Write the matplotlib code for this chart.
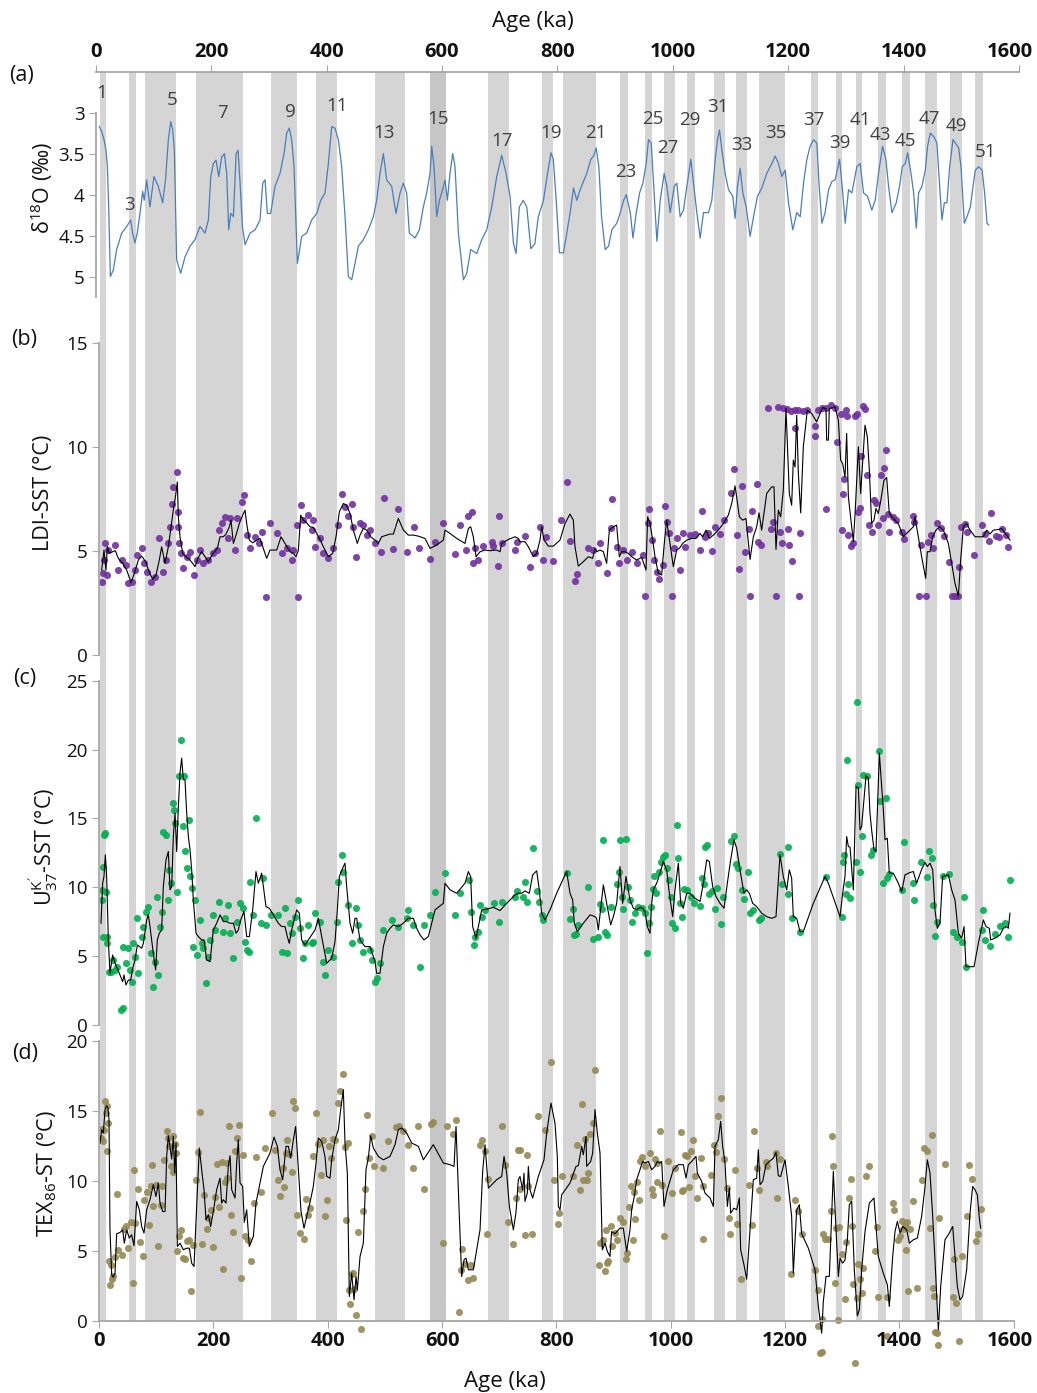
import matplotlib
matplotlib.use('Agg')
import matplotlib.pyplot as plt
from matplotlib.transforms import ScaledTranslation

plt.rcParams['font.family'] = ['Open Sans', 'DejaVu Sans']
plt.rcParams['mathtext.fontset'] = 'custom'
plt.rcParams['mathtext.rm'] = 'Open Sans'
plt.rcParams['mathtext.it'] = 'Open Sans:italic'

############################################################################
#                    Data                              #
############################################################################
# interglacial bands (ka)
band_start = [2, 52, 80, 170, 300, 380, 483, 579, 680, 775, 811, 912, 955, 989, 1029,
              1076, 1115, 1154, 1245, 1289, 1324, 1362, 1405, 1445, 1488, 1532]
band_end = [13, 65, 135, 252, 346, 416, 535, 607, 718, 795, 869, 926, 968, 1008, 1043,
            1095, 1134, 1200, 1257, 1300, 1335, 1376, 1419, 1466, 1510, 1546]
dark_band = 7

# MIS labels (age ka, d18O position)
mis_label = ['1', '3', '5', '7', '9', '11', '13', '15', '17', '19', '21', '23', '25', '27',
             '29', '31', '33', '35', '37', '39', '41', '43', '45', '47', '49', '51']
mis_x = [10, 58, 132, 220, 337, 418, 500, 593, 705, 789, 867, 919, 966, 992,
         1030, 1078, 1120, 1178, 1245, 1289, 1325, 1359, 1403, 1444, 1492, 1542]
mis_y = [2.76, 4.13, 2.84, 3.01, 2.99, 2.92, 3.25, 3.08, 3.34, 3.25, 3.25, 3.72, 3.08, 3.43,
         3.09, 2.93, 3.39, 3.25, 3.09, 3.37, 3.09, 3.27, 3.35, 3.08, 3.16, 3.48]

# (a) benthic d18O
d18o = [(6.3,3.17),(10.3,3.23),(14.4,3.33),(17.9,3.46),(20.2,3.66),(22.5,4.15),(25.4,5.0),
        (30.6,4.92),(36.3,4.67),(45,4.47),(53.7,4.39),(60.6,4.31),(64,4.47),(68,4.59),(72,4.47),
        (76.7,4.23),(81.4,3.96),(84,4.07),(88.3,3.82),(94,4.15),(101,3.78),(108.5,3.9),(116,4.1),
        (121,3.82),(125.9,3.33),(130,3.11),(133.4,3.21),(136.3,3.46),(140.3,4.8),(147.3,4.96),
        (154.8,4.76),(163.5,4.63),(172,4.55),(180.8,4.39),(189.5,4.47),(195.3,4.31),(199.4,3.78),
        (204,3.62),(208.6,3.58),(213.2,3.78),(218.4,3.54),(223,3.5),(227,3.74),(230.5,4.43),
        (234,4.23),(238.6,4.27),(243.3,3.5),(246.7,3.46),(250.2,3.86),(254.2,4.39),(258.8,4.61),
        (267.5,4.47),(276.2,4.43),(284.8,4.31),(289.4,3.86),(293.5,3.82),(297.4,4.23),(303.2,4.23),
        (310.7,3.9),(319.4,3.74),(326.3,3.5),(331,3.25),(335.6,3.19),(339.6,3.33),(343.7,3.66),
        (349.5,4.84),(357,4.51),(365.6,4.47),(374.3,4.31),(383,4.23),(390,4.07),(397.4,3.98),
        (403.2,3.62),(409,3.17),(414.8,3.19),(420.5,3.33),(426.3,3.66),(432.1,4.27),(437.8,5.0),
        (443.6,5.04),(449.4,4.84),(455.2,4.63),(463.8,4.55),(472.5,4.43),(481.1,4.27),(486.9,4.07),
        (492.7,3.74),(498.5,3.5),(504.2,3.82),(512.9,3.9),(520.4,4.23),(527.4,3.98),(533.1,3.86),
        (538.9,3.98),(543.5,4.47),(553.4,4.53),(560.9,4.43),(567.8,4.15),(573.6,3.98),(579.4,3.74),
        (582.3,3.41),(586.3,3.66),(590.9,4.27),(595.6,4.07),(599.6,3.98),(605.4,3.82),(609.4,4.07),
        (614,3.74),(618.7,3.5),(622.7,3.66),(628.5,4.47),(637.2,5.04),(643,4.96),(649.9,4.67),
        (660.3,4.72),(669,4.55),(677.6,4.43),(686.3,4.15),(695,3.78),(703.6,3.52),(711.1,3.74),
        (718,4.02),(723.8,4.59),(728.4,4.72),(734.2,4.15),(741,4.07),(747,4.15),(754,4.66),
        (761,4.6),(767,4.27),(776,4.07),(783,3.74),(789,3.49),(793,3.57),(798,4.07),(803.6,4.71),
        (810.6,4.71),(816.4,4.47),(822.2,4.22),(828,3.92),(833.7,4.07),(839.5,3.94),(845.3,3.84),
        (851,3.74),(858,3.57),(862.7,3.53),(867.3,3.43),(872,3.67),(876.6,4.27),(882.9,4.67),
        (888.7,4.63),(894.5,4.43),(903,4.35),(909,4.22),(914.8,4.07),(919.4,4.0),(926.4,4.22),
        (931,4.53),(936.8,4.22),(942.5,3.98),(948.3,3.86),(954,3.62),(958,3.33),(962.7,3.37),
        (966.7,3.86),(972.5,4.57),(978.3,4.07),(985.2,3.74),(989.8,3.9),(995.6,4.22),(1002.5,3.9),
        (1007,3.86),(1012.8,4.27),(1018.6,4.19),(1024.4,3.9),(1031.3,3.57),(1035.9,3.86),
        (1041.7,4.22),(1047.5,4.53),(1053.2,4.22),(1061.9,4.22),(1067.7,4.07),(1073.5,3.57),
        (1077.5,3.33),(1081,3.21),(1085,3.45),(1090.8,3.74),(1096.6,3.94),(1104,4.02),(1108,4.29),
        (1112.2,3.9),(1116.8,3.68),(1121.4,3.98),(1127.2,4.15),(1134,4.51),(1140,4.27),
        (1146.8,4.02),(1154.3,3.92),(1163,3.74),(1171.7,3.62),(1177.4,3.53),(1183.2,3.62),
        (1189,3.78),(1194.8,3.70),(1200.6,4.1),(1208,4.43),(1215,4.22),(1220.8,4.27),(1226.6,3.86),
        (1232.4,3.57),(1238,3.41),(1244,3.33),(1249.7,3.37),(1253.7,3.9),(1258.4,4.35),(1264,4.22),
        (1270,3.94),(1275.8,3.84),(1281.5,3.82),(1289,3.57),(1293.6,3.9),(1298.8,4.35),
        (1304.6,3.94),(1310.4,3.98),(1319,3.66),(1324.8,3.62),(1330.6,3.98),(1337.5,4.02),
        (1345,4.19),(1350.8,4.07),(1356.6,3.74),(1363.5,3.41),(1369.3,3.57),(1374,3.9),
        (1379.8,4.22),(1387.3,4.1),(1393,3.9),(1397.7,3.66),(1402.9,3.62),(1407,3.49),
        (1412.8,3.74),(1417.4,3.98),(1422,4.41),(1426,3.98),(1431.8,3.9),(1437.6,3.70),
        (1441.6,3.41),(1446.3,3.25),(1452,3.29),(1457.8,3.37),(1462.5,3.9),(1466.5,4.31),
        (1470.6,4.1),(1475.2,4.1),(1479.8,3.66),(1485.6,3.33),(1489.6,3.37),(1495.4,3.43),
        (1499.5,3.66),(1505.3,4.35),(1509.9,4.27),(1515.7,4.15),(1520.3,3.9),(1524.4,3.70),
        (1530,3.66),(1535.9,3.70),(1540.5,3.98),(1544.6,4.35),(1547.5,4.37)]

# (b) LDI-SST
ldi_pts = [(4.7,3.53),(7.6,3.93),(10.5,5.37),(13.4,3.85),(8.7,4.57),(16.3,5.05),(28,5.29),
           (33.8,4.09),(39.7,4.57),(47.2,4.33),(50.1,3.45),(57.1,3.53),(63,4.09),(65.9,4.81),
           (74.6,5.13),(79.3,4.41),(83.4,4.01),(90.4,3.53),(98,3.77),(105.5,5.61),(112.5,4.01),
           (116.6,4.57),(121.3,5.37),(124.2,6.17),(127.1,7.29),(130,8.09),(135.9,8.81),(137.6,6.89),
           (138.8,6.17),(140.5,5.37),(143.4,4.89),(147.5,4.17),(153.4,4.73),(159.2,4.97),
           (166.8,3.85),(170.8,4.57),(176.7,5.05),(182.5,4.41),(191.3,4.57),(200,4.89),(205.8,5.05),
           (210.5,6.01),(214.6,6.33),(220.4,6.65),(229.2,6.57),(226.3,5.61),(237.9,5.05),(242,6.57),
           (249.6,7.37),(254.2,7.72),(258.3,5.77),(264.1,5.13),(272.9,5.69),(280.5,5.37),
           (284.5,5.93),(292.1,2.8),(299.1,6.33),(310.8,5.85),(319.5,4.89),(328.3,5.13),(337,4.57),
           (340,5.05),(347,6.25),(348.7,2.8),(352.8,7.21),(357.4,6.49),(366.2,6.73),(372,6.01),
           (374.9,6.52),(377.8,5.21),(386.6,5.61),(392.4,4.89),(401.2,4.65),(409.9,5.13),
           (418.7,6.25),(424.5,7.77),(430.3,7.13),(436.2,6.68),(442,7.29),(444.9,6.17),(449.6,4.73),
           (456.6,6.33),(462.4,6.25),(468.2,5.77),(474.1,6.01),(482.8,5.37),(492.7,4.97),
           (498.5,7.56),(513.7,5.08),(523.6,7.02),(538.2,4.97),(551,6.17),(560.3,5.13),(579,4.63),
           (587.8,5.45),(602.3,6.36),(622.7,4.86),(631.5,6.25),(642,5.05),(646.1,6.71),(651.9,6.89),
           (653.6,4.41),(657.7,5.13),(663.6,4.57),(672.3,5.24),(686.9,5.45),(689.8,5.24),
           (698.5,4.28),(700.3,6.71),(704.4,5.37),(727.7,5.05),(731.8,5.45),(745.1,5.72),
           (753.9,4.25),(762.6,4.92),(771.4,6.17),(776,4.57),(781.9,5.69),(794.7,4.52),(807.5,6.49),
           (818,8.32),(823.9,5.5),(832.6,3.57),(836.7,3.88),(855.9,5.13),(864.7,5.05),(873.4,4.41),
           (876.4,5.37),(888,3.97),(895,6.09),(896.7,7.5),(905.5,5.21),(910.2,4.41),(917.1,5.05),
           (923,4.57),(931.7,4.97),(940.5,4.41),(951,4.81),(955.7,2.84),(959.7,6.33),(962.6,7.02),
           (966.7,5.53),(970.8,4.57),(975.5,4.01),(979.5,3.64),(987.1,4.31),(990,7.16),(994.1,6.41),
           (997.6,5.85),(1001.7,2.85),(1006.4,5.13),(1010.5,5.61),(1016.3,4.09),(1021,5.85),
           (1025,5.21),(1033.8,5.77),(1042.5,5.82),(1051.3,5.05),(1054.2,6.92),(1060,5.69),
           (1065.9,5.85),(1071.7,5.02),(1077.5,6.14),(1086.3,5.82),(1093.3,6.49),(1104.9,7.82),
           (1110.7,8.97),(1115.4,5.77),(1120.1,4.15),(1124.2,8.13),(1130,4.97),(1137.6,6.06),
           (1138.8,2.85),(1141.7,6.92),(1150.4,8.25),(1153.3,5.45),(1157.4,5.29),(1174.9,6.04),
           (1179.6,6.38),(1184.2,2.85),(1191.2,5.93),(1194.1,5.37),(1204.6,6.04),(1207.5,5.29),
           (1211.6,4.52),(1225,2.85),(1226.2,5.85),(1169.6,11.9),(1188.3,11.94),(1197,11.9),
           (1202.9,11.86),(1209.9,11.75),(1217.5,11.78),(1223.3,11.81),(1230.9,11.75),(1239,11.78),
           (1217.5,10.93),(1252.4,11.03),(1252.4,10.56),(1258.3,11.78),(1264.1,11.9),(1271.7,11.9),
           (1279.8,12.02),(1287.4,11.9),(1271.7,7.02),(1291.5,10.26),(1297.3,11.62),(1299.1,6.01),
           (1301.9,7.74),(1303.1,8.49),(1306.7,11.78),(1307.8,11.49),(1309.6,5.79),(1314.8,5.24),
           (1319.5,5.37),(1322.4,11.49),(1326.5,11.62),(1328.3,6.89),(1331.1,7.08),(1332.3,9.58),
           (1335.8,11.99),(1339.9,11.83),(1342.8,8.67),(1347.5,6.25),(1351.5,5.93),(1356.1,7.48),
           (1359.1,7.32),(1363.1,6.25),(1367.2,8.67),(1370.8,6.57),(1373.1,9.02),(1376.6,9.86),
           (1379.6,6.78),(1382.4,5.93),(1388.3,6.65),(1394.1,6.52),(1404,5.93),(1408.1,5.58),
           (1423.3,6.7),(1425.6,6.38),(1434.9,2.84),(1437.3,5.29),(1446.6,2.84),(1450.7,5.42),
           (1454.8,5.77),(1459.4,5.13),(1465.3,6.36),(1472.2,6.09),(1478,5.72),(1487.4,4.46),
           (1491.5,2.84),(1497.3,2.84),(1503.2,2.84),(1504.9,4.25),(1507.2,6.17),(1515,6.3),
           (1519,5.93),(1530.6,4.81),(1544,6.28),(1549.8,5.8),(1557.4,5.5),(1559.7,6.81),
           (1569,5.72),(1574.3,5.69),(1579,6.04),(1586.5,5.77),(1590.6,5.21)]

ldi_line = [(4.7,4.09),(8.7,5.05),(12.2,4.09),(14.6,5.21),(18.1,4.89),(23.9,4.97),(28.6,5.02),
            (33.8,4.65),(41.4,4.41),(48.4,4.09),(56,3.49),(61.8,3.93),(68.8,4.57),(74.6,4.76),
            (81.6,4.49),(87.5,4.01),(93.9,3.64),(99.7,3.85),(105.5,4.57),(109.6,5.21),(115.5,4.41),
            (121.3,5.21),(126,6.17),(130,6.97),(134.1,7.69),(137,8.33),(138.8,6.65),(141.7,5.69),
            (146.4,4.89),(152.2,4.73),(158,4.6),(163.8,4.41),(167.9,4.25),(173.8,4.7),(179.6,4.97),
            (185.4,4.73),(191.3,4.49),(200,4.92),(207,5.13),(211.7,5.69),(217.5,5.69),(222.2,5.82),
            (228,6.17),(230.9,6.49),(235,5.37),(239.7,5.77),(245.5,6.33),(251.3,6.73),(255.4,6.97),
            (258.3,6.33),(263,5.53),(268.8,5.4),(274.6,5.5),(281.6,5.61),(287.5,5.13),(293.3,4.65),
            (299.1,5.05),(310.8,5.05),(318.4,5.69),(327.1,5.29),(334.1,4.97),(340,4.89),(344.6,4.73),
            (348.7,5.05),(352.8,6.73),(357.4,6.49),(363.3,6.36),(369.1,6.17),(374.9,6.14),
            (380.8,5.85),(386.6,5.56),(392.4,5.21),(401.2,4.73),(408.7,4.89),(414.6,5.69),
            (420.4,6.89),(427.4,7.29),(433.2,7.21),(439.1,6.81),(444.9,6.01),(451.9,5.37),
            (456.6,5.77),(462.4,6.09),(468.2,6.01),(475.2,5.69),(482.8,5.53),(488.6,5.37),
            (494.5,5.69),(509,5.82),(514.9,5.82),(523.6,6.57),(532.4,6.01),(541.1,5.77),(549.9,5.77),
            (558.6,5.72),(570.3,5.61),(579,5.13),(590.7,5.29),(602.3,5.53),(605.2,6.01),(614,5.85),
            (625.7,5.61),(640.2,5.37),(646.1,6.09),(650.1,6.17),(654.8,5.69),(659.5,4.73),
            (666.5,4.97),(675.2,5.05),(683.9,5.02),(695.6,5.05),(701.5,4.97),(704.4,5.37),(716,5.56),
            (727.7,5.69),(733.5,5.61),(736.4,5.45),(745.1,5.45),(751,5.21),(759.7,4.73),(765.6,4.89),
            (771.4,5.53),(774.3,6.17),(778.4,5.53),(786,5.24),(794.7,5.24),(806.4,5.53),(815.1,6.33),
            (823.9,6.78),(829.7,6.49),(832.6,5.21),(838.4,4.28),(847.2,4.49),(855.9,4.73),
            (863.5,4.65),(867.6,5.13),(870.5,4.97),(876.4,5.05),(882.2,4.97),(888,4.41),(892.7,6.01),
            (899.7,6.17),(905.5,6.25),(910.2,4.73),(914.2,4.97),(920.1,4.97),(925.9,4.89),
            (931.7,4.73),(940.5,4.57),(949.2,4.7),(956.8,4.09),(959.7,6.65),(963.8,6.33),(968.5,5.53),
            (972.5,4.73),(978.4,3.93),(984.2,3.85),(988.3,5.21),(992.9,6.49),(998.8,5.37),
            (1004.6,4.25),(1010.5,5.05),(1015.1,5.13),(1021,5.37),(1028,5.53),(1036.7,5.61),
            (1044.3,5.61),(1051.3,5.85),(1055.9,5.69),(1061.8,6.01),(1067.6,5.61),(1074.6,5.77),
            (1083.3,6.01),(1092.1,6.33),(1100.8,6.73),(1106.7,7.29),(1112.5,8.14),(1115.4,7.61),
            (1120.1,6.65),(1126,6.49),(1131.7,6.57),(1138.8,4.6),(1144.6,5.69),(1150.4,6.17),
            (1154.5,6.84),(1159.1,6.01),(1167.9,7.77),(1176.6,8.09),(1180.7,8.09),(1184.2,5.08),
            (1188.3,6.97),(1192.4,6.65),(1197,7.93),(1201.7,11.86),(1207.5,7.77),(1211.6,7.21),
            (1214.5,9.38),(1217.5,9.05),(1220.4,11.54),(1223.3,8.73),(1227.4,6.84),(1232,10.02),
            (1239,11.78),(1246.6,11.62),(1255.3,11.22),(1261.2,11.62),(1265.8,11.9),(1271.7,11.86),
            (1272.8,10.34),(1275.8,10.34),(1277.5,11.86),(1287.4,11.94),(1293.3,11.3),(1297.3,9.38),
            (1300.8,9.21),(1304.9,8.57),(1307.8,10.66),(1310.8,7.61),(1319.5,5.45),(1322.4,6.73),
            (1328.3,10.02),(1332.3,7.77),(1335.8,9.29),(1339.9,11.06),(1344,10.5),(1347.5,8.89),
            (1351.5,6.33),(1355.6,6.49),(1359.1,7.05),(1363.1,6.81),(1367.2,7.37),(1373.1,8.41),
            (1377.8,8.54),(1382.4,6.81),(1389.4,6.57),(1398.2,6.33),(1406.9,5.69),(1415.7,5.93),
            (1424.4,6.17),(1427.3,6.65),(1433.2,5.69),(1439,4.73),(1446,3.69),(1448.9,4.97),
            (1453.6,4.97),(1458.3,5.69),(1464.1,6.01),(1470,6.17),(1477,6.01),(1485.7,5.37),
            (1491.5,4.41),(1497.3,3.45),(1503.2,2.84),(1507.2,4.57),(1512,6.17),(1517.7,6.33),
            (1523.6,6.01),(1532.3,5.69),(1546.9,5.69),(1552.7,6.01),(1558.6,5.82),(1564.4,6.01),
            (1573.2,6.04),(1579,6.09),(1587.7,5.77),(1593.5,5.53)]

# (c) UK'37-SST
uk_pts = [(4.7,9.8),(5.8,9.08),(6.4,6.41),(7.6,11.5),(8.7,13.81),(11.1,13.93),(12.2,9.68),
          (13.4,6.41),(14.6,5.92),(17,3.86),(20.4,3.86),(23.9,4.71),(28,3.98),(32.1,4.22),
          (37.9,1.07),(42.6,1.19),(41.4,5.68),(47.2,4.47),(51.3,5.56),(54.2,3.98),(57.1,3.13),
          (58.9,5.92),(63,4.95),(65.9,7.74),(68.8,3.74),(74.6,6.41),(77.6,7.14),(82.2,8.23),
          (86.3,8.59),(90.4,5.19),(93.9,2.77),(98,4.59),(100.9,9.32),(103.8,3.62),(106.7,7.14),
          (109.6,8.23),(112.5,14.05),(116.6,13.81),(120.1,9.08),(123,11.26),(125.4,10.29),
          (128.9,16.12),(131.2,15.63),(133,14.66),(135.9,9.68),(139.9,18.06),(143.4,20.73),
          (146.4,14.42),(149.3,18.06),(151,12.6),(154.5,11.38),(158,14.9),(159.2,10.78),
          (162.1,9.93),(167.9,9.08),(165,5.68),(170.8,5.07),(176.7,7.62),(179.6,5.92),(181.3,5.56),
          (187.2,3.01),(191.3,4.95),(194.2,6.17),(200,7.99),(202.9,6.89),(210.5,8.96),(216.4,6.77),
          (220.4,7.74),(226.3,8.71),(229.2,6.65),(235,4.83),(240.8,7.5),(246.7,8.83),(251.3,8.47),
          (255.4,6.04),(258.3,5.44),(263,5.32),(264.1,10.41),(269.9,7.99),(274.6,15.02),
          (282.8,7.38),(287.5,10.66),(292.1,7.26),(300.3,7.99),(313.7,7.99),(319.5,5.32),
          (325.4,8.47),(328.3,5.19),(334.1,7.38),(337,6.65),(342.9,7.86),(347.5,9.08),(351.6,7.01),
          (356.3,4.83),(360.3,5.92),(366.2,7.26),(372,5.92),(374.9,6.04),(377.8,8.11),(386.6,7.5),
          (392.4,4.59),(395.3,3.62),(401.2,5.44),(409.9,4.95),(415.7,7.5),(418.7,10.41),
          (424.5,12.35),(427.4,11.14),(436.2,8.71),(442,5.92),(449.6,8.47),(453.6,7.26),
          (456.6,6.17),(462.4,5.32),(474.1,5.44),(477,4.71),(482.8,3.13),(485.7,3.37),(491.5,4.47),
          (497.4,6.89),(512,7.62),(523.6,7.14),(538.2,7.74),(541.1,8.35),(549.9,7.26),(560.9,4.17),
          (569,7.26),(578.4,7.99),(588.3,9.68),(605.8,11.02),(623.3,7.99),(630.9,9.56),
          (646.6,10.53),(650.7,8.23),(655.4,5.8),(658.3,6.41),(662.4,6.77),(667,8.71),(670,7.86),
          (675.8,8.35),(690.4,8.83),(699.1,7.5),(704.4,8.96),(727.7,9.32),(731.8,9.73),(741,9.32),
          (745.1,10.36),(748.1,8.91),(758.6,12.84),(766.7,9.76),(770.2,8.96),(774.3,7.99),
          (777.2,7.62),(818,11.07),(823.9,7.67),(829.7,8.42),(831.4,6.53),(834.4,6.58),(838.4,7.26),
          (855.9,10),(864.7,6.21),(873.4,6.41),(876.4,8.79),(879.3,8.4),(882.2,13.4),(885.1,6.77),
          (889.2,6.53),(895,8.59),(906.7,10.24),(909.6,11.14),(911.3,13.45),(914.2,9.32),
          (917.1,8.4),(921.8,13.5),(925.9,10),(928.8,9.08),(931.7,7.5),(937.6,8.11),(943.4,8.59),
          (949.2,8.47),(955.1,8.11),(958,5.19),(962.6,7.38),(965,8.59),(968.5,9.85),(971.4,10.83),
          (974.3,9.56),(979,11.14),(982.5,11.8),(987.1,12.23),(990.6,12.35),(994.1,11.38),
          (997.1,10.53),(1000,9.32),(1002.3,7.43),(1007.5,7.06),(1010.5,14.54),(1013.4,12.11),
          (1016.3,8.83),(1019.2,7.82),(1023.3,9.85),(1028,9.81),(1035,9.32),(1040.8,8.83),
          (1051.3,8.64),(1054.2,10.66),(1058.3,10.22),(1060.6,12.89),(1064.1,13.08),(1067.6,9.51),
          (1071.7,9.76),(1077.5,8.4),(1080.4,9.93),(1087.4,7.33),(1092.1,9.32),(1104.9,13.33),
          (1110.7,13.74),(1114.3,11.7),(1118.3,11.38),(1124.2,9.81),(1128.2,9.13),(1135.8,11.14),
          (1138.8,8.11),(1144.6,8.35),(1155.1,7.62),(1157.4,7.74),(1191.2,12.43),(1194.1,10.24),
          (1204.6,9.51),(1205.8,12.91),(1211.6,7.79),(1226.2,6.77),(1271.1,10.73),(1299.1,7.82),
          (1302,11.8),(1303.1,12.35),(1306.7,9.51),(1307.8,19.22),(1310.8,10.22),(1313.7,9.22),
          (1323.6,11.8),(1325.3,23.45),(1327.1,17.45),(1331.2,11.12),(1334.1,13.76),(1337,18.18),
          (1342.8,18.06),(1350.4,12.35),(1353.3,12.72),(1365,19.88),(1366.1,16.24),(1370.8,10.34),
          (1376.6,16.48),(1378.9,10.66),(1382.4,10.97),(1404,9.81),(1408.1,13.28),(1423.3,10.29),
          (1425.6,9.08),(1437.3,11.8),(1447.8,10.73),(1452.4,12.65),(1456.5,12.11),(1459.4,8.71),
          (1462.3,6.46),(1465.3,7.5),(1477,10.83),(1487.4,10.97),(1493.3,6.77),(1501.4,6.41),
          (1509,6.04),(1513.7,9.32),(1516.6,4.17),(1544,6.89),(1546.9,8.35),(1549.8,6.17),
          (1558.6,5.73),(1567.3,6.6),(1575.6,7.18),(1584.8,7.38),(1590.6,6.36),(1593.5,10.53)]

uk_line = [(3.5,7.38),(6.4,10.29),(8.7,10.78),(11.1,12.35),(13.4,10.78),(16.3,6.17),(19.2,3.74),
           (23.9,5.07),(28,4.47),(32.1,4.1),(36.7,3.62),(41.4,3.13),(43.7,3.62),(47.2,2.89),
           (51.3,3.25),(55.4,3.25),(58.9,4.1),(63,4.71),(67.1,5.8),(70.6,5.68),(74.6,5.56),
           (77.6,5.92),(83.4,7.62),(86.3,7.99),(89.2,7.14),(95,5.19),(99.1,3.98),(102,6.17),
           (105.5,6.65),(109.6,6.89),(112.5,10.05),(117.2,11.99),(121.3,12.6),(124.2,9.81),
           (127.1,10.05),(130,13.69),(133,15.39),(135.9,12.6),(138.8,15.87),(141.7,18.3),
           (144.6,19.39),(147.5,17.82),(150.4,17.82),(153.4,15.39),(156.3,13.69),(159.2,12.72),
           (162.1,11.26),(165,9.08),(169.7,6.65),(173.8,6.41),(179.6,6.17),(183.7,6.17),(188.3,4.71),
           (194.2,4.59),(200,6.89),(205.8,7.38),(211.7,7.99),(217.5,7.5),(223.3,7.5),(229.2,7.38),
           (235,7.38),(239.7,6.65),(243.7,6.89),(247.8,7.62),(253.6,8.23),(258.3,6.41),(263,6.41),
           (268.8,8.35),(274.6,11.14),(278.7,10.29),(284.5,11.02),(287.5,10.05),(292.1,8.59),
           (297.9,8.47),(305,7.99),(313.7,7.38),(319.5,7.14),(325.4,7.14),(329.4,6.41),(332.9,5.92),
           (337,6.89),(345.8,8.35),(350.4,8.11),(354.5,6.17),(360.3,5.8),(366.2,6.17),(372,6.53),
           (377.8,6.89),(383.7,7.74),(389.5,6.41),(398.3,4.47),(407,4.83),(412.8,6.04),(416.9,8.35),
           (420.4,10.78),(427.4,11.5),(430.3,11.75),(433.2,10.05),(439.1,7.38),(443.7,6.65),
           (447.8,7.74),(450.7,7.74),(456.6,6.17),(465.3,5.68),(474.1,5.68),(482.8,4.59),
           (485.7,3.74),(491.5,3.74),(497.4,5.68),(503.2,6.65),(509,7.01),(514.9,7.26),(523.6,7.14),
           (532.4,7.38),(541.1,7.74),(549.9,7.74),(555.7,7.01),(561.5,6.53),(568.5,6.17),
           (576.1,6.41),(587.8,8.35),(602.3,8.83),(605.2,10.29),(614,9.81),(625.7,9.56),
           (640.2,10.29),(646.1,11.14),(650.1,10.78),(653.6,7.14),(659.5,6.29),(663.6,7.14),
           (669.4,8.35),(678.1,8.4),(689.8,8.54),(701.5,8.3),(713.1,8.83),(727.7,9.44),(733.5,9.56),
           (739.3,9.56),(745.1,9.73),(752.7,9.56),(758.6,10.9),(765.6,11.19),(770.2,9.81),
           (774.3,8.11),(780.1,7.62),(788.9,8.35),(800.5,9.56),(818,11.14),(823.9,9.56),(828.5,9.08),
           (831.4,7.38),(836.7,6.77),(847.2,7.38),(858.9,7.99),(867.6,7.86),(870.5,7.74),
           (873.4,6.89),(882.2,10.17),(888,8.83),(895,7.26),(899.7,7.86),(905.5,8.83),(911.3,11.5),
           (916,8.83),(921.8,10.78),(925.9,9.81),(928.8,9.08),(934.7,8.47),(940.5,8.35),(946.3,8.54),
           (951,8.47),(955.1,8.23),(959.1,7.14),(963.8,6.65),(966.7,8.83),(969.6,9.81),(975.5,10.29),
           (981.3,11.02),(987.1,11.87),(993,11.26),(997.6,9.56),(1003.5,7.86),(1007.5,9.81),
           (1013.4,11.75),(1017.5,8.83),(1022.1,8.47),(1028,9.56),(1033.8,9.56),(1042.5,9.2),
           (1051.3,8.96),(1057.1,10.29),(1063,11.99),(1067.6,11.87),(1073.4,10.05),(1079.3,9.32),
           (1086.3,8.83),(1093.3,8.47),(1099.1,10.29),(1104.9,11.99),(1110.7,13.45),(1115.4,12.84),
           (1121.2,11.26),(1128.2,9.56),(1132.9,9.81),(1137.6,9.56),(1143.4,8.83),(1150.4,8.59),
           (1159.1,8.11),(1167.9,7.86),(1176.6,7.74),(1184.2,7.86),(1191.2,12.35),(1197,10.78),
           (1202.9,9.81),(1207.5,11.26),(1211.6,10.66),(1214.5,7.86),(1220.4,7.74),(1226.2,6.77),
           (1232,6.77),(1249.5,8.83),(1270,10.78),(1275.8,10.29),(1296.2,7.86),(1300.8,9.56),
           (1304.9,10.78),(1307.8,13.69),(1310.8,12.96),(1313.7,12.91),(1319.5,9.81),(1324.2,17.33),
           (1328.3,17.21),(1331.2,14.17),(1334.1,14.42),(1337,15.87),(1341.7,18.11),(1345.7,17.94),
           (1348.6,15.39),(1351.5,14.17),(1355.6,12.72),(1359.1,12.6),(1365,19.76),(1369,17.33),
           (1372,15.63),(1374.9,13.45),(1378.9,13.57),(1382.4,11.02),(1389.4,11.02),(1398.2,10.29),
           (1404,9.68),(1409.9,10.9),(1418.6,11.07),(1424.4,11.14),(1430.3,10.29),(1439,11.31),
           (1444.9,11.8),(1448.9,11.5),(1453.6,11.75),(1458.3,11.26),(1462.3,8.35),(1466.4,7.01),
           (1471,7.38),(1475.7,10.78),(1479.8,10.83),(1485.7,10.9),(1491.5,9.81),(1497.3,9.08),
           (1503.2,6.65),(1509,6.29),(1513.1,7.14),(1516.6,4.22),(1523.6,4.22),(1530.6,4.22),
           (1538.2,5.92),(1546.9,7.62),(1551.6,7.14),(1557.4,7.01),(1559.7,6.17),(1567.3,6.29),
           (1576.1,6.53),(1581.9,7.01),(1587.7,7.14),(1590.6,7.01),(1593.5,8.11)]

# (d) TEX86-ST
tex_pts = [(2.9,13.07),(4.7,13.71),(6.4,12.83),(8.7,13.67),(10.5,15.69),(12.2,14.86),(13.4,15.38),
           (14.6,12.12),(15.7,14.14),(17.5,4.26),(19.2,2.6),(21,4.02),(22.2,3),(25.1,3.24),(28,4.57),
           (30.9,9.1),(33.8,5.1),(39.7,4.74),(43.7,6.57),(47.2,6.81),(51.3,5.21),(55.4,7.05),
           (58.9,2.76),(61.2,10.76),(63,7),(67.6,9.43),(71.7,5.62),(76.4,4.62),(79.3,8.62),
           (83.4,9.19),(87.5,6.88),(90.4,9.67),(93.3,11.17),(95,8.24),(99.7,9.74),(103.8,5.38),
           (107.9,8.31),(110.8,9.62),(113.7,11.52),(118.4,13.55),(120.1,13.07),(123,12.48),
           (125.4,11.05),(128.9,10.62),(130,13.24),(133,12.67),(134.7,12),(137,4.98),(140.5,6.05),
           (142.8,6.48),(146.4,4.5),(150.4,4.43),(153.4,5.69),(158,5.81),(160.3,2.12),(165,5.45),
           (169.7,10.1),(173.8,12.05),(176.7,14.9),(180.2,5.52),(183.7,9.02),(188.3,6.57),
           (191.3,7.36),(195.3,7.95),(198.8,5.29),(202.9,8.86),(205.8,11.24),(209.3,8.14),
           (214.6,11.38),(217.5,3.71),(220.4,9.9),(223.3,11.29),(224.5,10.21),(228,13.9),(230.9,7.6),
           (235,6.33),(237.9,12.12),(240.8,13.07),(245.5,14.02),(247.8,3.07),(252.5,11.88),
           (255.4,6.1),(261.2,5.76),(265.3,4.33),(271.1,8.43),(274.6,11.71),(282.8,9.21),
           (290.4,12.36),(302,14.86),(307.9,12.24),(313.7,10.05),(316.6,8.95),(321.3,10.93),
           (323.6,9.57),(327.1,12),(329.4,12.9),(332.9,11.95),(337,10.62),(340,15.69),(342.9,15.21),
           (347,7.6),(351.6,6.29),(358.6,5.86),(362.1,8.71),(366.2,7.6),(369.1,8.07),(373.8,11.81),
           (379.6,14.86),(383.7,12.67),(387.8,10.45),(391.3,12.9),(395.3,7.52),(398.3,8.62),
           (402.9,12.52),(405.2,11.64),(409.9,13),(412.8,12.9),(418.7,15.57),(421.6,16.4),
           (427.4,17.64),(430.3,12.43),(432.1,7.24),(436.2,12.71),(437.9,2.24),(439.1,1.24),
           (442,3.36),(444.9,3.43),(446.6,2.29),(449.6,0.45),(453.6,6.4),(457.7,-0.55),(461.2,7.83),
           (465.3,9.43),(469.4,14.74),(472.9,11.64),(477,13.19),(481.1,11.05),(497.4,10.93),
           (506.1,12.83),(519.5,13.86),(524.2,13.95),(532.4,13.55),(541.1,12.6),(549.9,10.93),
           (558.6,13.9),(568.5,9.43),(580.2,14.05),(584.8,14.19),(601.2,5.57),(609.3,13.9),
           (619.8,13.38),(624.5,14.33),(630.3,0.69),(633.2,3.67),(635.6,5.14),(640.2,4.1),
           (646.1,2.95),(650.1,4.02),(654.8,3.05),(666.5,12.6),(669.4,12.9),(675.2,12.12),
           (678.1,6.21),(681.1,10.17),(704.4,13.9),(710.3,11.17),(716,7.07),(723.6,5.52),
           (729.4,8.79),(733.5,12.24),(736.4,12.24),(736.4,9.43),(745.1,6.17),(749.2,11.83),
           (751,9.62),(756.8,6.24),(768.5,14.62),(780.1,13.67),(790.6,18.48),(796.5,10.1),
           (802.3,6.95),(805.2,7.71),(809.3,10.33),(828.5,10.38),(836.7,12.55),(841.4,9.38),
           (844.3,15.52),(847.2,10.05),(850.1,13),(853,10.05),(855.9,10.57),(858.9,13.36),
           (863.5,14.14),(867.6,17.95),(876.4,5.57),(875.2,4.02),(882.2,5.81),(885.1,3.6),
           (889.2,4.14),(891,4.31),(886.8,6.48),(895,6.81),(896.7,5.38),(902.6,6.29),(906.7,5.76),
           (911.3,7.36),(917.1,7.05),(921.8,4.43),(923,4.9),(927.7,8.14),(929.9,9.62),(933.5,5.76),
           (935.8,9.19),(937.6,7.29),(940.5,9.95),(945.1,8.62),(946.3,11.45),(949.2,11.71),
           (955.1,11.05),(963.8,12),(966.7,9.43),(969.6,9.02),(972.5,11.57),(975.5,11.29),
           (976.6,9.93),(981.3,13.55),(984.2,9.74),(988.3,6.1),(995.9,11.45),(1001.7,9.14),
           (1007.5,10.93),(1017.5,13.48),(1019.2,9.26),(1022.1,9.38),(1025,11.83),(1028,11.81),
           (1032.6,9.57),(1034.9,12.14),(1038.4,12.9),(1042.5,10.33),(1045.4,8.79),(1052.4,11.64),
           (1055.9,9.67),(1057.1,5.86),(1069.9,10.45),(1075.7,12.55),(1079.3,12.05),(1083.3,14.62),
           (1087.4,15.93),(1093.3,11.6),(1098,9.5),(1102.6,7.36),(1103.8,6.24),(1112.5,10.76),
           (1115.4,6.93),(1122.4,3),(1137,9.74),(1141.7,6.88),(1145.7,13.6),(1151.6,10.93),
           (1155.1,9.38),(1166.7,11.33),(1169.1,11.05),(1184.2,12),(1186.6,8.79),(1191.2,11.57),
           (1209.9,3.38),(1217.5,8.67),(1223.3,7.88),(1229.1,6.24),(1252.4,3.62),(1257.1,2.24),
           (1258.3,-0.33),(1261.2,-2.29),(1264.1,-2.17),(1264.1,0.14),(1265.8,6.24),(1269.9,5.86),
           (1275.8,5.86),(1279.8,7.9),(1282.8,13.19),(1284.5,11.1),(1287.4,2.71),(1289.2,6.64),
           (1293.3,0.1),(1295,6.71),(1299.1,4.81),(1304.9,1.57),(1306.7,5.64),(1312.5,8.79),
           (1314.8,10.17),(1316.6,6.81),(1319.5,2.64),(1322.4,-3),(1325.3,1.64),(1328.3,4.1),
           (1331.2,3),(1334.1,2),(1337,3.83),(1341.7,10.33),(1347.5,11.1),(1357.4,4.98),
           (1360.3,6.71),(1363.1,1.76),(1377.8,-1.05),(1379,1.76),(1388.3,8.43),(1390.6,7.95),
           (1398.2,5.76),(1401.3,6.1),(1404,7.12),(1406.3,6.57),(1409.9,6.81),(1411.6,5.05),
           (1413.9,7.05),(1415.7,2.12),(1418.6,6.57),(1424.4,8.55),(1430.3,2.4),(1439,10.05),
           (1443.1,12.36),(1448.9,12.12),(1453.6,6.64),(1456.5,13.31),(1458.3,2.36),(1460.7,1.81),
           (1462.3,-0.74),(1466.4,-0.86),(1468.2,-1.69),(1469.9,7.36),(1479.8,11.24),(1493.3,1.76),
           (1495.6,4.45),(1499.1,1.29),(1504.9,-1.38),(1509,4.67),(1517.7,7.48),(1522.4,11.12),
           (1526.4,10.14),(1534.1,5.74),(1538.2,6.24),(1542.2,8.02)]

tex_line = [(1.7,12.71),(4.7,13.67),(7.6,13.43),(10.5,15.1),(13.4,15.38),(15.7,15.21),(17.5,14.38),
            (19.2,6.52),(22.2,3.31),(25.1,3.14),(28,3.43),(30.9,6.24),(36.7,6.33),(41.4,6.52),
            (44.3,5.57),(48.4,6.52),(53,5.93),(57.1,6.17),(61.2,5.38),(65.9,8.55),(70.6,7.95),
            (74.6,6.76),(78.7,6.29),(83.4,7.95),(89.2,8.67),(95,9.74),(99.7,8.9),(103.8,9.86),
            (106.7,8.43),(111.4,7.83),(115.5,7.83),(118.4,11.76),(121.3,13.24),(124.2,12.48),
            (127.1,11.57),(130,13.19),(132.4,10.57),(134.7,12.71),(137,5.33),(141.7,5.57),
            (147.5,5.1),(153.4,5.21),(158,5.21),(162.1,4.14),(166.2,3.9),(170.8,8.19),(175.5,12.36),
            (179.6,10.81),(183.7,9.38),(187.2,7.24),(191.3,7.6),(195.3,6.76),(200,7.83),(205.8,9.38),
            (211.7,10.21),(214.6,8.43),(217.5,8.67),(222.2,8.43),(226.3,11.1),(229.2,11.81),
            (232.1,9.38),(237.9,8.79),(240.8,11.29),(243.7,12.95),(246.7,9.86),(251.3,9.62),
            (254.2,7.05),(258.3,7.95),(263,5.33),(270,6.05),(274.6,8.43),(281.6,9.86),(287.5,11.05),
            (299.1,12),(306.1,13.14),(312,12.48),(316.6,10.81),(321.3,10.1),(327.1,12.48),
            (331.2,12.48),(335.3,11.64),(340,12.95),(344,13.9),(348.7,10.81),(353.4,7.83),
            (358.6,6.64),(363.3,7.48),(369.1,8.48),(374.9,9.62),(379.6,11.29),(383.7,13.07),
            (389.5,12.83),(395.3,11.76),(398.3,10.33),(404.1,10.21),(407,11.52),(412.8,12.95),
            (418.7,13.67),(422.7,15.1),(427.4,16.52),(430.3,12.71),(434.4,10.57),(437.9,1.76),
            (442,3.43),(446.1,1.52),(449.6,3.19),(451.9,2.24),(456.6,4.62),(462.4,5.57),(467,10.81),
            (471.1,11.64),(475.2,13.24),(479.9,12.36),(488.6,11.76),(497.4,11.52),(509,11.76),
            (517.8,12.6),(523.6,13.67),(529.4,13.79),(538.2,13.43),(547,12.71),(552.8,12.6),
            (558.6,12.48),(567.4,11.52),(584.8,12.6),(602.3,11.29),(614,11.17),(621,11.05),
            (624.5,13.9),(630.3,7.48),(634.4,3.19),(638.5,4.38),(642,4.5),(646.1,3.67),(654.8,3.67),
            (660.6,5.1),(666.5,6.52),(671.1,10.69),(675.2,12.6),(681.1,9.5),(695.6,10.1),
            (704.4,10.33),(708.5,11.76),(713.1,10.57),(717.8,8.19),(724.8,6.52),(729.4,7.76),
            (733.5,10.1),(736.4,10.33),(741,9.38),(743.4,10.57),(745.1,8.55),(749.2,9.14),
            (751,11.05),(753.9,9.38),(758.6,8.79),(768.5,10.33),(778.4,11.52),(783.1,13.43),
            (790.6,15.57),(797.6,14.14),(801.7,11.76),(803.5,8.19),(806.4,7.95),(809.3,9.02),
            (823.9,9.86),(834.4,11.05),(838.4,11.1),(844.3,12.48),(847.2,11.88),(851.9,13.19),
            (853,11.05),(860,11.4),(863.5,12),(867.6,15.1),(871.7,13.43),(876.4,12),(880.4,5.1),
            (885.1,5.57),(889.2,4.98),(893.8,4.62),(896.7,6.4),(902.6,6.24),(911.3,6.64),
            (917.1,6.64),(923,4.98),(928.8,6.52),(931.7,7.95),(935.8,8.79),(940.5,10.1),
            (946.3,10.81),(951,11.4),(955.1,11.29),(960.9,11.4),(966.7,10.81),(972.5,11.05),
            (976.6,11.4),(980.1,11.29),(984.2,11.4),(988.3,8.19),(994.1,9.38),(1004.6,10.81),
            (1013.4,11.17),(1022.1,11.17),(1026.8,10.21),(1030.9,11.17),(1036.7,11.4),
            (1044.3,11.76),(1046.6,10.57),(1054.2,9.98),(1060,9.14),(1068.8,8.79),(1074.6,8.19),
            (1077.5,12.48),(1083.3,12.95),(1087.4,14.26),(1090.9,12.48),(1095,11.29),(1099.1,8.19),
            (1102.6,9.5),(1104.9,7.71),(1110.7,8.07),(1115.4,7.95),(1120.1,8.79),(1122.4,5.1),
            (1128.2,4.02),(1132.9,3),(1138.8,6.52),(1144.6,10.1),(1150.4,10.21),(1153.3,12.24),
            (1156.3,9.74),(1160.9,9.98),(1166.7,11.17),(1172.6,11.4),(1179.6,11.64),(1184.2,12.05),
            (1188.3,10.38),(1192.4,10.33),(1200,11.52),(1205.8,9.62),(1211.6,7.48),(1214.5,3.43),
            (1220.4,7.95),(1225,8.31),(1229.1,6.24),(1240.8,5.21),(1252.4,3.67),(1258.3,1.05),
            (1264.1,-0.86),(1267,1.4),(1271.7,3.19),(1277.5,3.19),(1281.5,7.48),(1284.5,10.69),
            (1289.2,6.52),(1293.3,3.19),(1296.2,4.5),(1300.8,4.14),(1304.9,4.38),(1309,5.81),
            (1312.5,8.31),(1316.6,8.55),(1321.2,3.67),(1326.5,0.38),(1330,0.81),(1334.1,3.67),
            (1339.9,6.4),(1347.5,8.43),(1355.6,8.79),(1363.1,4.62),(1371.9,3.43),(1379,2.6),
            (1382.4,1.05),(1388.3,4.62),(1392.4,6.4),(1396.5,7.12),(1401.3,6.29),(1406,6.76),
            (1412.8,6.52),(1417.5,5.57),(1424.4,5.81),(1431.4,5.93),(1439,7.48),(1444.9,9.62),
            (1448.9,11.52),(1453.6,10.57),(1458.3,7.48),(1462.3,4.38),(1468.2,-0.62),(1472.3,2.48),
            (1479.8,5.81),(1485.7,6.17),(1493.3,6.76),(1497.3,4.62),(1501.4,2.48),(1506,1.52),
            (1510.7,1.76),(1517.7,3.67),(1523.6,7.71),(1528.2,9.62),(1532.3,9.38),(1536.4,9.02),
            (1539.9,7.36),(1542.2,6.64)]
############################################################################

W, H = 1037, 1393
GREY = '#a6a6a6'
TXT = '#111111'


def box(left, right, top, bottom):
    # pixel box -> figure fraction
    return [left / W, 1 - bottom / H, (right - left) / W, (bottom - top) / H]


def split(pairs):
    return [p[0] for p in pairs], [p[1] for p in pairs]


fig = plt.figure(figsize=(W / 100, H / 100), dpi=100)

# shaded bands behind all panels
ax_bg = fig.add_axes(box(99, 1013.7, 71.7, 1321.3))
ax_bg.set_xlim(0, 1600)
ax_bg.set_ylim(0, 1)
ax_bg.axis('off')
for i, (s, e) in enumerate(zip(band_start, band_end)):
    col = '#c6c6c6' if i == dark_band else '#d5d5d5'
    ax_bg.axvspan(s, e, color=col, lw=0)


def style_left(ax, ticks, lo, hi):
    ax.set_facecolor('none')
    for sp in ['top', 'right', 'bottom']:
        ax.spines[sp].set_visible(False)
    ax.spines['left'].set_color(GREY)
    ax.spines['left'].set_linewidth(1.3)
    ax.spines['left'].set_bounds(lo, hi)
    ax.set_yticks(ticks)
    ax.tick_params(axis='y', direction='out', length=5, color=GREY, labelsize=13.5,
                   labelcolor=TXT, pad=3)
    ax.set_xlim(0, 1600)


def bold_xlabels(ax, shift_px):
    labs = ax.get_xticklabels()
    for lab in labs:
        lab.set_fontweight('bold')
    # last label pulled in a little, as in the original
    labs[-1].set_transform(labs[-1].get_transform() +
                           ScaledTranslation(-shift_px / 100, 0, fig.dpi_scale_trans))


# (a) d18O
ax_a = fig.add_axes(box(95.7, 1019, 71.7, 297))
a_age, a_val = split(d18o)
ax_a.plot(a_age, a_val, color='#4a7ebb', lw=0.9)
ax_a.set_ylim(5.25, 2.5)
style_left(ax_a, [3, 3.5, 4, 4.5, 5], 3, 5.25)
ax_a.set_yticklabels(['3', '3.5', '4', '4.5', '5'])
ax_a.spines['top'].set_visible(True)
ax_a.spines['top'].set_color(GREY)
ax_a.spines['top'].set_linewidth(1.3)
ax_a.xaxis.tick_top()
ax_a.set_xticks(range(0, 1601, 200))
ax_a.tick_params(axis='x', direction='out', length=5, color=GREY, labelsize=14.5,
                 labelcolor=TXT, pad=2)
bold_xlabels(ax_a, 9)
for t, x, y in zip(mis_label, mis_x, mis_y):
    ax_a.text(x, y, t, ha='center', va='center', fontsize=13.5, color='#404040')

# (b) LDI
ax_b = fig.add_axes(box(99, 1013.7, 343.3, 655))
ax_b.set_ylim(0, 15)
style_left(ax_b, [0, 5, 10, 15], 0, 15)
ax_b.set_xticks([])
x, y = split(ldi_pts)
ax_b.scatter(x, y, s=26, color='#7030a0', alpha=0.9, lw=0)
x, y = split(ldi_line)
ax_b.plot(x, y, color='black', lw=0.8)

# (c) UK'37
ax_c = fig.add_axes(box(99, 1013.7, 681, 1024.7))
ax_c.set_ylim(0, 25)
style_left(ax_c, [0, 5, 10, 15, 20, 25], 0, 25)
ax_c.set_xticks([])
x, y = split(uk_pts)
ax_c.scatter(x, y, s=26, color='#00b050', alpha=0.9, lw=0)
x, y = split(uk_line)
ax_c.plot(x, y, color='black', lw=0.8)

# (d) TEX86
ax_d = fig.add_axes(box(99, 1013.7, 1041, 1366))
ax_d.set_ylim(-3.2, 20)
style_left(ax_d, [0, 5, 10, 15, 20], 0, 20)
ax_d.spines['bottom'].set_visible(True)
ax_d.spines['bottom'].set_position(('data', 0))
ax_d.spines['bottom'].set_color(GREY)
ax_d.spines['bottom'].set_linewidth(1.3)
ax_d.set_xticks(range(0, 1601, 200))
ax_d.tick_params(axis='x', direction='out', length=5, color=GREY, labelsize=14.5,
                 labelcolor=TXT, pad=2)
bold_xlabels(ax_d, 4)
x, y = split(tex_pts)
ax_d.scatter(x, y, s=26, color='#948a54', alpha=0.9, lw=0, clip_on=False)
x, y = split(tex_line)
ax_d.plot(x, y, color='black', lw=0.8)

# titles and labels
fig.text(533 / W, 1 - 21 / H, 'Age (ka)', ha='center', va='center', fontsize=16, color=TXT)
fig.text(505 / W, 1 - 1382 / H, 'Age (ka)', ha='center', va='center', fontsize=16, color=TXT)
for lab, px, py in [('(a)', 22, 75), ('(b)', 24, 340), ('(c)', 25, 678), ('(d)', 25, 1054)]:
    fig.text(px / W, 1 - py / H, lab, ha='center', va='center', fontsize=15.5, color=TXT)

ylab_kw = dict(rotation=90, ha='center', va='center', fontsize=15.5, color=TXT)
fig.text(42 / W, 1 - 188 / H, 'δ$^{18}$O (‰)', **ylab_kw)
fig.text(44 / W, 1 - 493 / H, 'LDI-SST (°C)', **ylab_kw)
fig.text(44 / W, 1 - 847 / H, r"U$^{\mathrm{K'}}_{\mathrm{37}}$-SST (°C)", **ylab_kw)
fig.text(47 / W, 1 - 1173 / H, r'TEX$_{\mathrm{86}}$-ST (°C)', **ylab_kw)

plt.savefig('out.png', dpi=100)
plt.close()
